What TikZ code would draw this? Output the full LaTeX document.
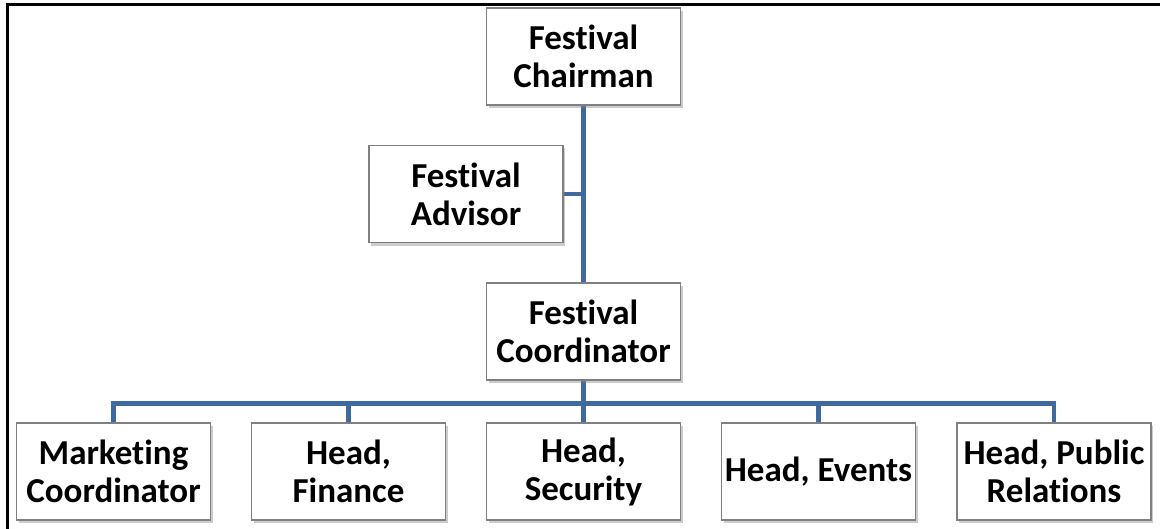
\documentclass[tikz,border=0pt]{standalone}
\usepackage{fontspec}
\setmainfont[Ligatures=NoCommon]{Carlito}
\usepackage{tikz}
\usetikzlibrary{shadows, backgrounds}
\definecolor{orgline}{RGB}{62,106,160}
\definecolor{boxline}{RGB}{128,128,128}

\begin{document}
\begin{tikzpicture}[x=0.5pt, y=-0.5pt,
	post/.style={draw=boxline, fill=white, line width=0.6pt, minimum width=97pt, minimum height=48.5pt,
		inner sep=0pt, align=center, font=\fontsize{17.5}{19}\selectfont\bfseries,
		drop shadow={shadow xshift=1.2pt, shadow yshift=-1.5pt, opacity=0.4}},
	link/.style={draw=orgline, line width=2.2pt}]
	\useasboundingbox (0,0) rectangle (1160,529);
	\draw[line width=1.5pt] (7,529) -- (7,5) -- (1160,5);
	\node (chairman) [post] at (583.5,56.5) {Festival\\Chairman};
	\node (advisor) [post] at (466,194) {Festival\\Advisor};
	\node (coord) [post] at (583.5,331.5) {Festival\\Coordinator};
	\node (marketing) [post] at (113.5,471.5) {Marketing\\Coordinator};
	\node (finance) [post] at (348.5,471.5) {Head,\\Finance};
	\node (security) [post] at (583.5,471.5) {Head,\\Security};
	\node (events) [post] at (818.5,471.5) {Head, Events};
	\node (pr) [post] at (1054,471.5) {Head, Public\\Relations};
	\begin{scope}[on background layer]
		\draw[link] (chairman) -- (coord);
		\draw[link] (advisor) -- (advisor -| chairman);
		\draw[link] (coord) -- (security);
		\foreach \n in {marketing,finance,events,pr}
			\draw[link] (coord.south) ++(0,23) -| (\n.north);
	\end{scope}
\end{tikzpicture}
\end{document}
